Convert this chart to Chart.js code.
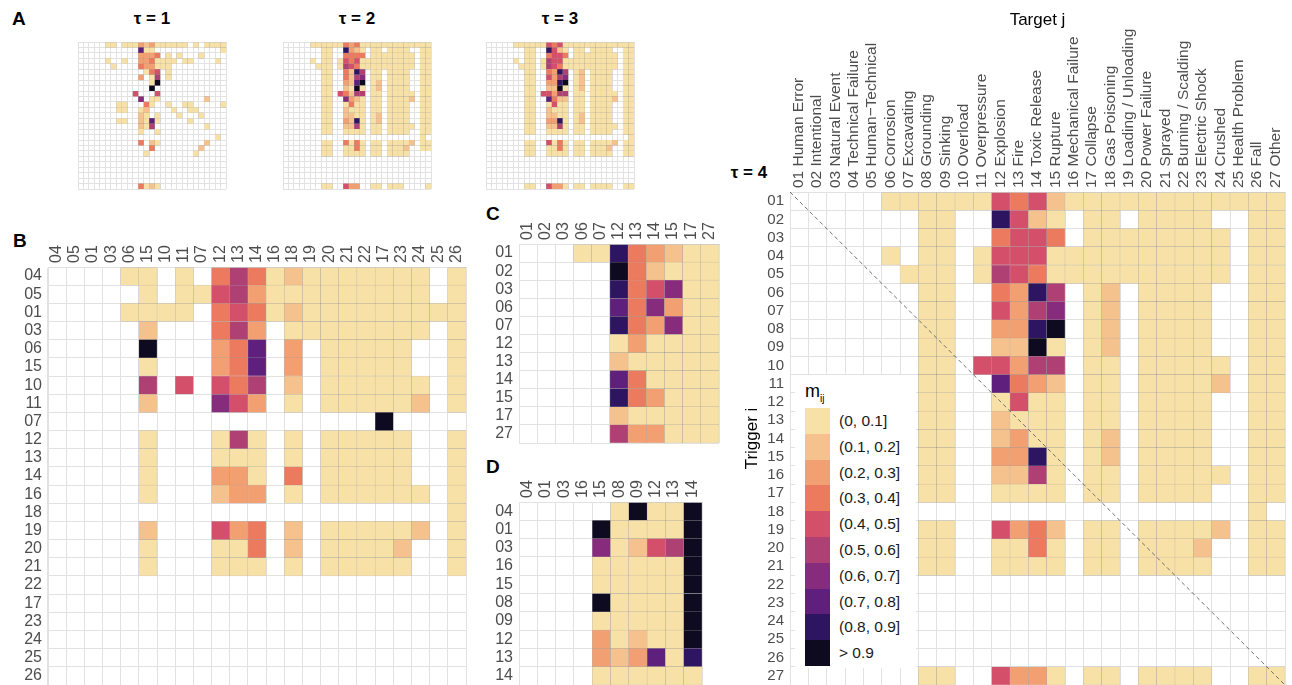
<!DOCTYPE html>
<html>
<head>
<meta charset="utf-8">
<script src="https://cdn.jsdelivr.net/npm/chart.js@4.4.1/dist/chart.umd.min.js"></script>
<style>
  body { margin: 0; width: 1292px; height: 685px; overflow: hidden; background: #fff; position: relative;
         font-family: "Liberation Sans", Arial, sans-serif; }
  canvas { position: absolute; }
  .panel { position: absolute; font-weight: bold; font-size: 19px; color: #000; }
  .tau { position: absolute; font-weight: bold; font-size: 17px; color: #000; transform: translateX(-50%); white-space: nowrap; }
  #legend { position: absolute; left: 795px; top: 375px; width: 121px; height: 293px; background: #fff; z-index: 5; }
  #legend .ttl { position: absolute; left: 10px; top: 6px; font-size: 18px; color: #000; }
  #legend .ttl sub { font-size: 10px; }
  #legend .sw { position: absolute; left: 10px; width: 25px; }
  #legend .tx { position: absolute; left: 44px; font-size: 15.5px; color: #1a1a1a; white-space: nowrap; }
</style>
</head>
<body>
<div class="panel" style="left:12px;top:8px">A</div>
<div class="panel" style="left:13px;top:230px">B</div>
<div class="panel" style="left:486px;top:203px">C</div>
<div class="panel" style="left:486px;top:456px">D</div>
<div class="tau" style="left:152px;top:9px">τ = 1</div>
<div class="tau" style="left:357px;top:9px">τ = 2</div>
<div class="tau" style="left:560px;top:9px">τ = 3</div>
<div class="tau" style="left:749px;top:163px">τ = 4</div>
<div id="legend"></div>
<script>
// level codes per cell: 1..9 = bins (0,0.1] .. (0.8,0.9], X = > 0.9, 0 or missing = no link
const targetNames = ['01 Human Error', '02 Intentional', '03 Natural Event', '04 Technical Failure',
  '05 Human\u2212Technical', '06 Corrosion', '07 Excavating', '08 Grounding', '09 Sinking', '10 Overload',
  '11 Overpressure', '12 Explosion', '13 Fire', '14 Toxic Release', '15 Rupture', '16 Mechanical Failure',
  '17 Collapse', '18 Gas Poisoning', '19 Loading / Unloading', '20 Power Failure', '21 Sprayed',
  '22 Burning / Scalding', '23 Electric Shock', '24 Crushed', '25 Health Problem', '26 Fall', '27 Other'];
const triggerCodes = ['01', '02', '03', '04', '05', '06', '07', '08', '09', '10', '11', '12', '13', '14',
  '15', '16', '17', '18', '19', '20', '21', '22', '23', '24', '25', '26', '27'];

const tau1 = [
  '00000 11 0 111 323 111111 0 1 0 1111',
  '00000000000 811 000000000000 1',
  '00000000000 3334 0 1 0 1 000 1 0000',
  '00000 1 00 1 00 334 1111 0 11 0000 1 0',
  '000000 1 0000 433 111',
  '000000000000 1 45 0 1',
  '00000000000 3 0 1 6 0 1',
  '0000000000000 1X',
  '0000000000000 X',
  '0000000000 5 000 5',
  '00000000000 7 0 11 00000000 2',
  '0000000 11 000 41 00 1 00 11 00000 1',
  '0000000 11 00 1 2 0 000 1 00 11',
  '00000000000 21 0 1 000 1 000 1',
  '0000000 11 00 2 1 8 1 00000 1',
  '00000000000 216 000000000 1',
  '00000000000 1 00 1',
  '0000000000000000000000000 1',
  '00000000000 4 0 21 00000000 2',
  '0000000000000 4 00000000 2',
  '000000000000 1 00000000 1',
  '', '', '', '', '',
  '00000000000 4121'
];
const tau2 = [
  '00000 111111 434 1 111111111111',
  '0000000 11 00 9321 0 11 0 1111 00 11',
  '0000000 11 00 4444 0 11111111 0 11',
  '00000 1 0 11 0 1 545 1 111111111 0 11',
  '000000 111 0 1 654 1 111111111 0 11',
  '0000000 11 00 4296 0 11 0 1111 00 11',
  '0000000 11 00 4267 0 11 0 1111 00 11',
  '0000000 11 00 328X 0 1 2 0 1111 00 11',
  '0000000 11 00 21X1 0 1 2 0 1111 00 11',
  '0000000 11 0 5 4266 0 11 0 11111 0 11',
  '0000000 11 00 7321 0 11 0 1111 2 0 11',
  '0000000 11 00 1411 0 11 0 1111 00 11',
  '0000000 11 00 2111 0 11 0 1111 00 11',
  '0000000 11 00 2211 0 1 2 0 1111 00 11',
  '0000000 11 00 3291 0 1 2 0 1111 00 11',
  '0000000 11 00 2261 0 11 0 11111 0 11',
  '0000000 11 00 1111 0 11 0 1111 00 11',
  '0000000000000000000000000 1',
  '0000000 11 00 4141 0 11 0 1111 2 0 11',
  '0000000 11 00 1141 0 11 0 111 2 00 11',
  '0000000 11 00 1111 0 11 0 1111',
  '', '', '', '', '',
  '0000000 11 00 533 00 11 0 111 0000 1'
];
const tau3 = [
  '00000 111111 545 1 111111111111',
  '0000000 11 00 9521 0 11 0 1111 00 11',
  '0000000 11 00 4554 0 11111111 0 11',
  '00000 1 0 11 0 1 655 1 111111111 0 11',
  '000000 111 0 1 654 1 111111111 0 11',
  '0000000 11 00 4396 0 1 2 0 1111 00 11',
  '0000000 11 00 5367 0 1 2 0 1111 00 11',
  '0000000 11 00 339X 0 1 2 0 1111 00 11',
  '0000000 11 00 22X1 0 1 2 0 1111 00 11',
  '0000000 11 0 5 5366 0 11 0 11111 0 11',
  '0000000 11 00 8422 0 11 0 1111 2 0 11',
  '0000000 11 00 1511 0 11 0 1111 00 11',
  '0000000 11 00 2111 0 11 0 1111 00 11',
  '0000000 11 00 2211 0 1 2 0 1111 00 11',
  '0000000 11 00 3391 0 1 2 0 1111 00 11',
  '0000000 11 00 2261 0 11 0 11111 0 11',
  '0000000 11 00 1111 0 11 0 1111 00 11',
  '00000000000000000000000000 1',
  '0000000 11 00 5141 0 11 0 1111 2 0 11',
  '0000000 11 00 1141 0 11 0 111 2 00 11',
  '0000000 11 00 1111 0 11 0 1111 00 11',
  '', '', '', '', '',
  '0000000 11 00 5331 0 11 0 1111 00 11'
];
const tau4 = [
  '00000 111111 5452 111111111111',
  '0000000 11 00 9521 0 11 0 1111 00 11',
  '0000000 11 00 4554 0 11111111 0 11',
  '00000 1 0 11 0 1 555 1 111111111 0 11',
  '000000 111 0 1 654 1 111111111 0 11',
  '0000000 11 00 4396 0 1 2 0 1111 00 11',
  '0000000 11 00 5367 0 1 2 0 1111 00 11',
  '0000000 11 00 339X 0 1 2 0 1111 00 11',
  '0000000 11 00 22X1 0 1 2 0 1111 00 11',
  '0000000 11 0 5 5366 0 11 0 11111 0 11',
  '0000000 11 00 8432 0 11 0 1111 2 0 11',
  '0000000 11 00 1511 0 11 0 1111 00 11',
  '0000000 11 00 2111 0 11 0 1111 00 11',
  '0000000 11 00 2311 0 1 2 0 1111 00 11',
  '0000000 11 00 3391 0 1 2 0 1111 00 11',
  '0000000 11 00 2261 0 11 0 11111 0 11',
  '0000000 11 00 1111 0 11 0 1111 00 11',
  '0000000000000000000000000 1',
  '0000000 11 00 5342 0 11 0 1111 2 0 11',
  '0000000 11 00 1141 0 11 0 111 2 00 11',
  '0000000 11 00 1111 0 11 0 1111 00 11',
  '', '', '', '', '',
  '0000000 11 00 5331 0 11 0 1111 00 11'
];

const bCodes = ['04', '05', '01', '03', '06', '15', '10', '11', '07', '12', '13', '14', '16', '18', '19',
  '20', '21', '22', '17', '23', '24', '25', '26'];
const bCells = [
  '0000 11 0 1 0 464 1 2 1111111 0 1',
  '00000 1 0 11 563 11 1111111 0 1',
  '0000 1111 0 454 1 2 111111111',
  '00000 2 000 463 0 1 1111111 0 1',
  '00000 X 000 348 0 3 0 11111 00 1',
  '00000 1 000 348 0 3 0 11111 00 1',
  '00000 6 0 5 0 546 0 2 0 111111 0 1',
  '00000 2 000 753 0 1 0 11111 2 0 1',
  '000000000000000000 X',
  '00000 1 000 161 0 1 0 11111 00 1',
  '00000 1 000 111 0 1 0 11111 00 1',
  '00000 1 000 331 0 4 0 11111 00 1',
  '00000 1 000 233 0 1 0 111111 0 1',
  '0000000000000000000000 1',
  '00000 2 000 534 0 2 0 11111 2 0 1',
  '00000 1 000 114 0 2 0 1111 2 00 1',
  '00000 1 000 111 0 1 0 11111 00 1',
  '', '', '', '', '', ''
];

const cCodes = ['01', '02', '03', '06', '07', '12', '13', '14', '15', '17', '27'];
const cCells = [
  '000 11 9432 11',
  '00000 X421 11',
  '00000 9457 11',
  '00000 8473 11',
  '00000 9437 11',
  '00000 1311 11',
  '00000 2111 11',
  '00000 8411 11',
  '00000 9431 11',
  '00000 2111 11',
  '00000 6331 11'
];

const dCodes = ['04', '01', '03', '16', '15', '08', '09', '12', '13', '14'];
const dCells = [
  '00000 1X11X',
  '0000 X1111X',
  '0000 71256X',
  '0000 11111X',
  '0000 11111X',
  '0000 X1111X',
  '0000 11111X',
  '0000 31211X',
  '0000 323819',
  '0000 111111'
];

const binLabels = ['(0, 0.1]', '(0.1, 0.2]', '(0.2, 0.3]', '(0.3, 0.4]', '(0.4, 0.5]',
  '(0.5, 0.6]', '(0.6, 0.7]', '(0.7, 0.8]', '(0.8, 0.9]', '> 0.9'];
const palette = ['#F7E1A6', '#F5C18D', '#F2A072', '#EB7A5E', '#D44F69',
  '#AF4073', '#872C7C', '#5F1F7C', '#2D1562', '#0E0A20'];

Chart.defaults.font.family = '"Liberation Sans", Arial, sans-serif';
const gridColor = '#E2E2E2';
const tickColor = '#4D4D4D';

function toPoints(rowStrings, cols) {
  const pts = [];
  rowStrings.forEach((s, i) => {
    [...s.replace(/\s/g, '')].forEach((ch, j) => {
      const v = ch === 'X' ? 10 : Number(ch);
      if (v > 0 && j < cols.length) pts.push({ x: cols[j], y: [i, i + 1], v });
    });
  });
  return pts;
}

const diagonal = {
  id: 'diagonal',
  afterDatasetsDraw(chart) {
    const { left, top, right, bottom } = chart.chartArea;
    const ctx = chart.ctx;
    ctx.save();
    ctx.strokeStyle = '#707070';
    ctx.lineWidth = 1;
    ctx.setLineDash([4, 3]);
    ctx.beginPath();
    ctx.moveTo(left, top);
    ctx.lineTo(right, bottom);
    ctx.stroke();
    ctx.restore();
  }
};

function heat(cfg) {
  const pad = 16;
  const cv = document.createElement('canvas');
  const W = cfg.axisW + cfg.w + 2 * pad;
  const H = cfg.axisH + cfg.h + 2 * pad;
  cv.width = W;
  cv.height = H;
  cv.style.left = (cfg.left - cfg.axisW - pad) + 'px';
  cv.style.top = (cfg.top - cfg.axisH - pad) + 'px';
  cv.style.width = W + 'px';
  cv.style.height = H + 'px';
  document.body.appendChild(cv);

  const n = cfg.rows.length;
  const showLabels = cfg.labels !== false;
  const xFont = cfg.xFont || 16;

  return new Chart(cv, {
    type: 'bar',
    data: {
      labels: cfg.cols,
      datasets: [{
        data: toPoints(cfg.cells, cfg.cols),
        backgroundColor: (ctx) => palette[ctx.raw.v - 1],
        borderColor: 'rgba(110, 100, 95, 0.35)',
        borderWidth: cfg.border ?? 0.5,
        borderSkipped: false,
        barPercentage: 1,
        categoryPercentage: 1,
      }],
    },
    plugins: cfg.plugins || [],
    options: {
      responsive: false,
      animation: false,
      events: [],
      devicePixelRatio: 1,
      layout: { padding: pad },
      plugins: {
        legend: { display: false },
        tooltip: { enabled: false },
      },
      scales: {
        x: {
          position: 'top',
          offset: true,
          grid: { offset: true, color: gridColor, drawTicks: false },
          border: { color: gridColor },
          ticks: {
            display: showLabels,
            autoSkip: false,
            minRotation: 90,
            maxRotation: 90,
            padding: 4,
            // rotated labels on a top axis sit one line height to the left of the tick
            labelOffset: xFont * 1.2 - 0.5,
            color: tickColor,
            font: { size: xFont },
          },
          title: cfg.xTitle
            ? { display: true, text: cfg.xTitle, color: '#000', font: { size: 17 }, padding: 0 }
            : { display: false },
          afterFit: (s) => { s.height = cfg.axisH; },
        },
        y: {
          type: 'linear',
          reverse: true,
          min: 0,
          max: n,
          grid: { color: gridColor, drawTicks: false },
          border: { color: gridColor },
          afterBuildTicks: (s) => {
            s.ticks = cfg.rows.map((_, i) => ({ value: i })).concat([{ value: n }]);
          },
          ticks: {
            display: showLabels,
            autoSkip: false,
            padding: 6,
            labelOffset: cfg.h / n / 2,
            color: tickColor,
            font: { size: cfg.yFont || 16 },
            callback: (v, i) => cfg.rows[i] ?? '',
          },
          title: cfg.yTitle
            ? { display: true, text: cfg.yTitle, color: '#000', font: { size: 17 }, padding: 0 }
            : { display: false },
          afterFit: (s) => { s.width = cfg.axisW; },
        },
      },
    },
  });
}

// panel A: tau = 1, 2, 3
heat({ left: 78, top: 42, w: 148, h: 147, axisW: 0, axisH: 0, cols: targetNames, rows: triggerCodes,
  cells: tau1, labels: false, border: 0.3 });
heat({ left: 283, top: 42, w: 148, h: 147, axisW: 0, axisH: 0, cols: targetNames, rows: triggerCodes,
  cells: tau2, labels: false, border: 0.3 });
heat({ left: 486, top: 42, w: 148, h: 147, axisW: 0, axisH: 0, cols: targetNames, rows: triggerCodes,
  cells: tau3, labels: false, border: 0.3 });

// panel B, C, D
heat({ left: 48, top: 267, w: 418, h: 418, axisW: 40, axisH: 30, cols: bCodes, rows: bCodes, cells: bCells });
heat({ left: 519, top: 244, w: 200, h: 199, axisW: 40, axisH: 24, cols: cCodes, rows: cCodes, cells: cCells });
heat({ left: 519, top: 502, w: 183, h: 183, axisW: 40, axisH: 24, cols: dCodes, rows: dCodes, cells: dCells });

// tau = 4 full matrix
heat({ left: 790, top: 192, w: 495, h: 493, axisW: 48, axisH: 182, cols: targetNames, rows: triggerCodes,
  cells: tau4, xFont: 15.5, yFont: 15, xTitle: 'Target j', yTitle: 'Trigger i', plugins: [diagonal] });

// legend
const legend = document.getElementById('legend');
legend.innerHTML = '<div class="ttl">m<sub>ij</sub></div>';
binLabels.forEach((txt, i) => {
  const top = 33 + i * 25.8;
  const sw = document.createElement('div');
  sw.className = 'sw';
  sw.style.top = top + 'px';
  sw.style.height = '25.8px';
  sw.style.background = palette[i];
  legend.appendChild(sw);
  const tx = document.createElement('div');
  tx.className = 'tx';
  tx.style.top = (top + 4) + 'px';
  tx.textContent = txt;
  legend.appendChild(tx);
});
</script>
</body>
</html>
